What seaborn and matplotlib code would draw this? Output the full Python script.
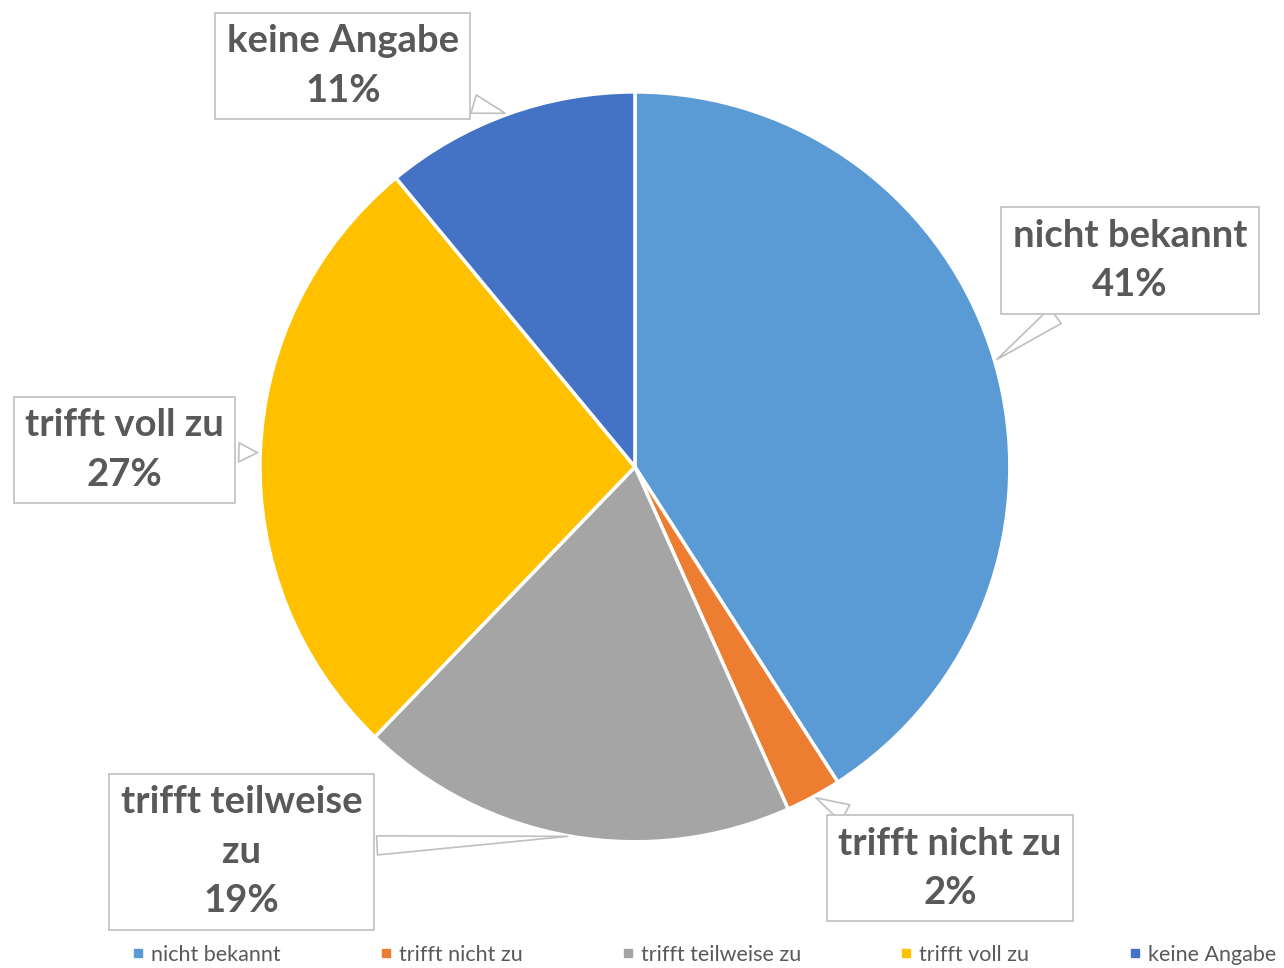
import numpy as np
import matplotlib
matplotlib.use("Agg")
import seaborn as sns
from matplotlib import pyplot as plt
from matplotlib.lines import Line2D

categories = ["nicht bekannt", "trifft nicht zu", "trifft teilweise zu", "trifft voll zu", "keine Angabe"]
values = [40.9, 2.4, 18.9, 26.8, 11.0]
label_texts = ["nicht bekannt\n41%", "trifft nicht zu\n2%", "trifft teilweise\nzu\n19%",
               "trifft voll zu\n27%", "keine Angabe\n11%"]
colors = ["#5B9BD5", "#ED7D31", "#A5A5A5", "#FFC000", "#4472C4"]

# label box centres in figure fraction (layout only)
label_pos = [(0.880, 0.731), (0.740, 0.103), (0.188, 0.120), (0.097, 0.535), (0.267, 0.932)]

sns.set_theme(style="white")
plt.rcParams["font.family"] = ["Lato", "DejaVu Sans"]
text_color = "#595959"

fig = plt.figure(figsize=(12.84, 9.68), dpi=100)
ax = fig.add_axes([0.2025, 0.1302, 0.584, 0.775])

wedges, _ = ax.pie(values, colors=colors, startangle=90, counterclock=False,
                   radius=1.0, wedgeprops=dict(edgecolor="white", linewidth=2.5))
ax.set_xlim(-1, 1)
ax.set_ylim(-1, 1)
ax.set_aspect("equal")
ax.axis("off")

for w, txt, pos in zip(wedges, label_texts, label_pos):
    mid = np.deg2rad((w.theta1 + w.theta2) / 2)
    ax.annotate(txt, xy=(np.cos(mid), np.sin(mid)), xycoords="data",
                xytext=pos, textcoords="figure fraction",
                ha="center", va="center", fontsize=27.5, fontweight="bold",
                color=text_color, linespacing=1.55,
                bbox=dict(boxstyle="square,pad=0.3", fc="white", ec="#BFBFBF", lw=1.2),
                arrowprops=dict(arrowstyle="wedge,tail_width=0.5,shrink_factor=0.5",
                                fc="white", ec="#BFBFBF", lw=1.2),
                zorder=5)

handles = [Line2D([0], [0], marker="s", linestyle="", markersize=6,
                  markerfacecolor=c, markeredgecolor=c) for c in colors]
fig.legend(handles, categories, loc="center", bbox_to_anchor=(0.548, 0.0134), ncol=5,
           frameon=False, fontsize=15.5, handlelength=0.6, handletextpad=0.3,
           columnspacing=4.6, labelcolor=text_color)

fig.savefig("out.png", dpi=100, facecolor="white")
